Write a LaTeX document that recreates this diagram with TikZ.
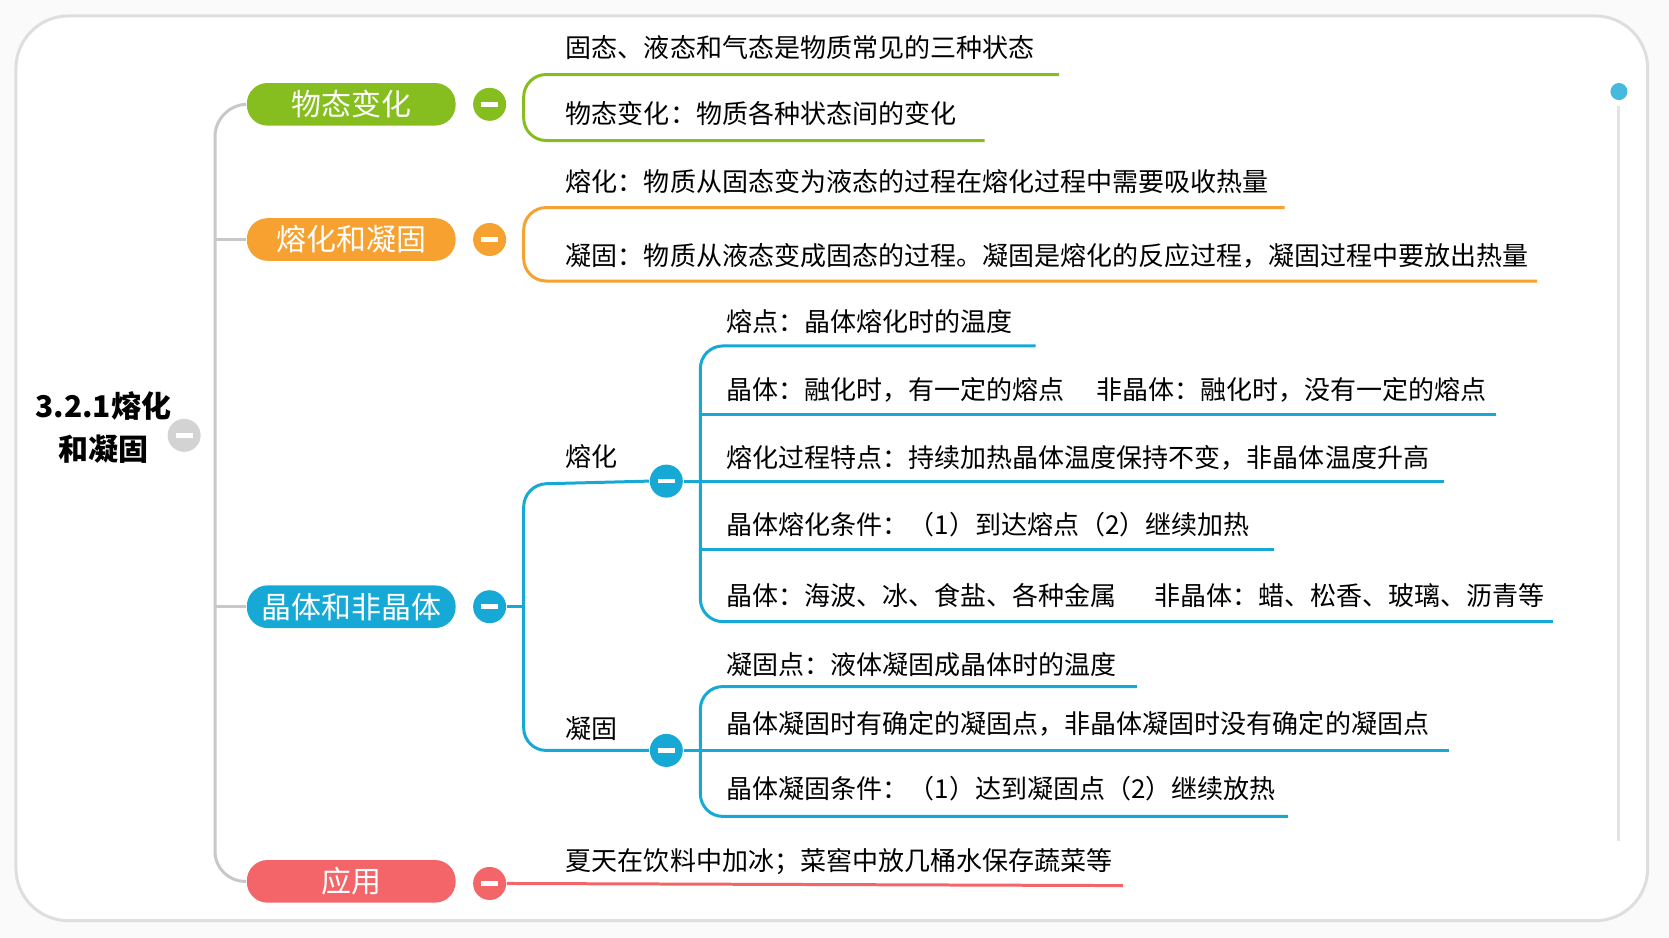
\documentclass[tikz,border=0pt]{standalone}
\usepackage{fontspec}
\setmainfont{Noto Sans CJK SC}
\usetikzlibrary{positioning, calc}
\definecolor{cgreen}{HTML}{86BE1F}
\definecolor{corange}{HTML}{F7A230}
\definecolor{cblue}{HTML}{17A9D6}
\definecolor{cred}{HTML}{F4656A}
\definecolor{cgray}{HTML}{C8C8C8}
\begin{document}
\begin{tikzpicture}[
        x=0.01cm, y=-0.01cm,
        every node/.style={font=\fontsize{6.95pt}{8pt}\selectfont, inner sep=0pt},
        pill/.style={rounded corners=5.5pt, minimum width=1.96cm, minimum height=0.40cm, text=white, font=\fontsize{8pt}{9pt}\selectfont},
        knob/.style={circle, fill=#1, minimum size=0.31cm},
        leaf/.style={anchor=base west},
        branch/.style={thick, rounded corners=6pt}]

    % frame
    \useasboundingbox (0,0) rectangle (1568,881);
    \fill[white!96!gray] (0,0) rectangle (1568,881);
    \draw[cgray!60, fill=white, thick, rounded corners=14pt] (15,15) rectangle (1548,865);

    % root
    \node[font=\bfseries\fontsize{8pt}{11.5pt}\selectfont, align=center] (root) at (97,402) {3.2.1熔化\\和凝固};
    \node[knob=cgray!80] (rk) at (173,409) {};
    \draw[white, line width=1.2pt] ($(rk)+(-8,0)$) -- ($(rk)+(8,0)$);

    % main branches
    \node[pill, fill=cgreen] (state) at (330,98) {物态变化};
    \node[pill, fill=corange] (melt) at (330,225) {熔化和凝固};
    \node[pill, fill=cblue] (crys) at (330,570) {晶体和非晶体};
    \node[pill, fill=cred] (use) at (330,828) {应用};
    \draw[cgray, thick, rounded corners=8pt] (state.west) -- (202,100) -- (202,828) -- (use.west);
    \draw[cgray, thick] (202,225) -- (melt.west) (202,570) -- (crys.west);

    \node[knob=cgreen] (ks) at (460,98) {};
    \node[knob=corange] (km) at (460,225) {};
    \node[knob=cblue] (kc) at (460,570) {};
    \node[knob=cred] (ku) at (460,830) {};
    \node[knob=cblue] (kcm) at (626,452) {};
    \node[knob=cblue] (kcs) at (626,705) {};
    \foreach \k in {ks, km, kc, ku, kcm, kcs}
        \draw[white, line width=1.2pt] ($(\k)+(-8,0)$) -- ($(\k)+(8,0)$);

    % 物态变化
    \node[leaf] (s1) at (531,54) {固态、液态和气态是物质常见的三种状态};
    \node[leaf] (s2) at (531,116) {物态变化：物质各种状态间的变化};
    \draw[cgreen, branch] (995,70) -- (492,70) -- (492,132) -- (925,132);

    % 熔化和凝固
    \node[leaf] (m1) at (531,180) {熔化：物质从固态变为液态的过程在熔化过程中需要吸收热量};
    \node[leaf] (m2) at (531,249) {凝固：物质从液态变成固态的过程。凝固是熔化的反应过程，凝固过程中要放出热量};
    \draw[corange, branch] (1207,195) -- (492,195) -- (492,264) -- (1444,264);

    % 晶体和非晶体
    \node[leaf] (cm) at (531,438) {熔化};
    \node[leaf] (cs) at (531,694) {凝固};
    \draw[cblue, branch] (kcm.west) -- (492,455) -- (492,705) -- (kcs.west);
    \draw[cblue, thick] (kc.east) -- (492,570);

    \node[leaf] (a1) at (682,311) {熔点：晶体熔化时的温度};
    \node[leaf] (a2) at (682,375) {晶体：融化时，有一定的熔点\quad\ 非晶体：融化时，没有一定的熔点};
    \node[leaf] (a3) at (682,439) {熔化过程特点：持续加热晶体温度保持不变，非晶体温度升高};
    \node[leaf] (a4) at (682,502) {晶体熔化条件：（1）到达熔点（2）继续加热};
    \node[leaf] (a5) at (682,569) {晶体：海波、冰、食盐、各种金属\quad\ \ 非晶体：蜡、松香、玻璃、沥青等};
    \draw[cblue, branch] (973,325) -- (658,325) -- (658,584) -- (1459,584);
    \draw[cblue, thick] (658,389) -- (1405,389) (658,452) -- (1357,452) (658,516) -- (1197,516);
    \draw[cblue, thick] (kcm.east) -- (658,452);

    \node[leaf] (b1) at (682,634) {凝固点：液体凝固成晶体时的温度};
    \node[leaf] (b2) at (682,689) {晶体凝固时有确定的凝固点，非晶体凝固时没有确定的凝固点};
    \node[leaf] (b3) at (682,750) {晶体凝固条件：（1）达到凝固点（2）继续放热};
    \draw[cblue, branch] (1068,645) -- (658,645) -- (658,767) -- (1210,767);
    \draw[cblue, thick] (658,705) -- (1361,705) (kcs.east) -- (658,705);

    % 应用
    \node[leaf] (u1) at (531,818) {夏天在饮料中加冰；菜窖中放几桶水保存蔬菜等};
    \draw[cred, thick] (ku.east) -- (1055,832);

    % scrollbar
    \fill[cblue!80] (1521,86) circle (8);
    \draw[cgray!50, thick] (1521,100) -- (1521,790);
\end{tikzpicture}
\end{document}
